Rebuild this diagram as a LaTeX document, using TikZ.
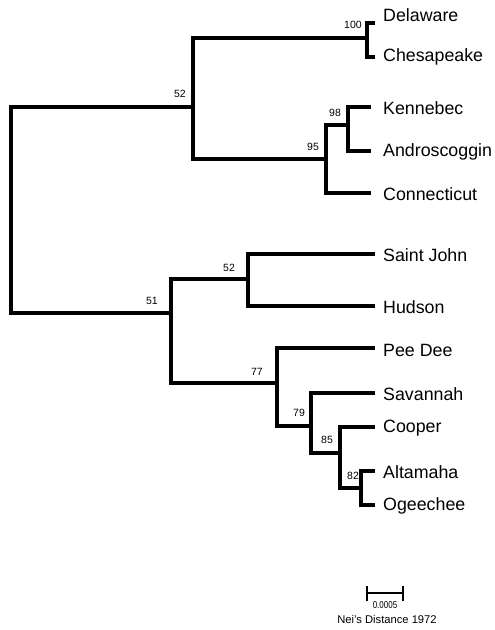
\documentclass[tikz,border=0pt]{standalone}
\usepackage{fontspec}
\setmainfont{Liberation Sans}
\begin{document}
\begin{tikzpicture}[x=1pt,y=-1pt,
  br/.style={line width=3.1pt,line join=miter,line cap=rect},
  taxon/.style={anchor=west,inner sep=0pt,font=\fontsize{17.8}{20}\selectfont},
  boot/.style={inner sep=0pt,font=\fontsize{10.5}{12}\selectfont},
  sbar/.style={line width=2pt}]
\useasboundingbox (0,0) rectangle (495,630);
% internal nodes
\coordinate (rTop) at (11,107);
\coordinate (rBot) at (11,313);
\coordinate (n52u) at (193,107);
\coordinate (n100) at (367,38);
\coordinate (n95) at (326,159);
\coordinate (n98) at (348,125);
\coordinate (n51) at (171,313);
\coordinate (n52l) at (248,279);
\coordinate (n77) at (277,383);
\coordinate (n79) at (311,426);
\coordinate (n85) at (340,453);
\coordinate (n82) at (361,488);
% tip ends
\coordinate (tDel) at (373,23);
\coordinate (tChe) at (373,57);
\coordinate (tKen) at (369,107);
\coordinate (tAnd) at (369,151);
\coordinate (tCon) at (369,193);
\coordinate (tSJ) at (373,254);
\coordinate (tHud) at (373,306);
\coordinate (tPD) at (373,348);
\coordinate (tSav) at (373,393);
\coordinate (tCoo) at (373,427);
\coordinate (tAlt) at (373,471);
\coordinate (tOge) at (373,505);
% taxon labels
\node[taxon] (Del) at (383,15) {Delaware};
\node[taxon] (Che) at (383,57) {Chesapeake};
\node[taxon] (Ken) at (383,108) {Kennebec};
\node[taxon] (And) at (383,152) {Androscoggin};
\node[taxon] (Con) at (383,194) {Connecticut};
\node[taxon] (SJ) at (383,255) {Saint John};
\node[taxon] (Hud) at (383,307) {Hudson};
\node[taxon] (PD) at (383,350) {Pee Dee};
\node[taxon] (Sav) at (383,394) {Savannah};
\node[taxon] (Coo) at (383,428) {Cooper};
\node[taxon] (Alt) at (383,472) {Altamaha};
\node[taxon] (Oge) at (383,506) {Ogeechee};
% branches
\draw[br] (rTop) -- (rBot);
\draw[br] (rTop) -- (n52u);
\draw[br] (rBot) -- (n51);
\draw[br] (n52u) |- (n100);
\draw[br] (n52u) |- (n95);
\draw[br] (n100) |- (tDel);
\draw[br] (n100) |- (tChe);
\draw[br] (n95) |- (n98);
\draw[br] (n95) |- (tCon);
\draw[br] (n98) |- (tKen);
\draw[br] (n98) |- (tAnd);
\draw[br] (n51) |- (n52l);
\draw[br] (n51) |- (n77);
\draw[br] (n52l) |- (tSJ);
\draw[br] (n52l) |- (tHud);
\draw[br] (n77) |- (tPD);
\draw[br] (n77) |- (n79);
\draw[br] (n79) |- (tSav);
\draw[br] (n79) |- (n85);
\draw[br] (n85) |- (tCoo);
\draw[br] (n85) |- (n82);
\draw[br] (n82) |- (tAlt);
\draw[br] (n82) |- (tOge);
% bootstrap values
\node[boot] (b100) at (353,25) {100};
\node[boot] (b52u) at (180,94) {52};
\node[boot] (b98) at (335,113) {98};
\node[boot] (b95) at (313,147) {95};
\node[boot] (b51) at (152,301) {51};
\node[boot] (b52l) at (229,268) {52};
\node[boot] (b77) at (257,372) {77};
\node[boot] (b79) at (299,413) {79};
\node[boot] (b85) at (327,440) {85};
\node[boot] (b82) at (353,476) {82};
% scale bar
\coordinate (sbL) at (367,593);
\coordinate (sbR) at (403,593);
\draw[sbar] (sbL) -- (sbR);
\draw[sbar] ([yshift=-8pt]sbL) -- ([yshift=7pt]sbL);
\draw[sbar] ([yshift=-8pt]sbR) -- ([yshift=7pt]sbR);
\node[inner sep=0pt,xscale=0.8,font=\fontsize{10}{12}\selectfont] (sblab) at (385,605) {0.0005};
\node[inner sep=0pt,font=\fontsize{11.2}{13}\selectfont] (nei) at (387,619) {Nei's Distance 1972};
\end{tikzpicture}
\end{document}
